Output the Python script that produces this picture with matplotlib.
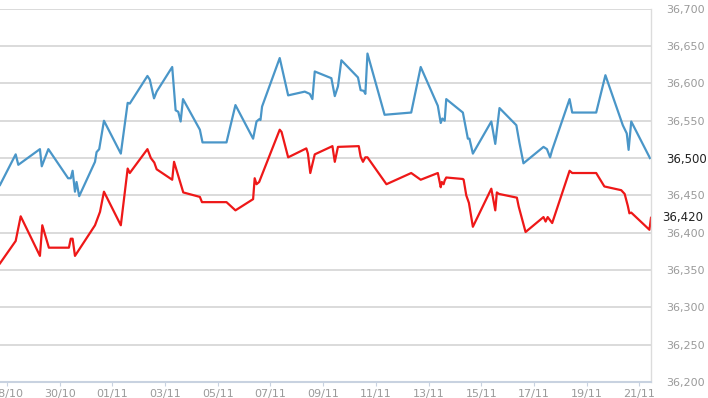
import matplotlib.pyplot as plt

# days since 28/10
blue_days = [-0.265, 0.33, 0.43, 1.25, 1.32, 1.57, 2.32, 2.42, 2.49, 2.58, 2.64, 2.74, 3.34, 3.40, 3.50,
             3.68, 4.32, 4.58, 4.66, 5.33, 5.42, 5.58, 5.68, 6.27, 6.40, 6.50, 6.59, 6.68, 7.32, 7.42,
             8.33, 8.67, 9.34, 9.47, 9.57, 9.62, 9.68, 10.35, 10.67, 11.30, 11.49, 11.59, 11.68, 12.31,
             12.44, 12.56, 12.69, 13.32, 13.42, 13.54, 13.60, 13.68, 14.33, 15.34, 15.70, 16.35, 16.46,
             16.52, 16.61, 16.67, 17.30, 17.49, 17.55, 17.68, 18.38, 18.53, 18.69, 19.33, 19.45, 19.60,
             20.36, 20.49, 20.61, 20.69, 21.35, 21.45, 22.36, 22.71, 23.37, 23.52, 23.59, 23.69, 24.40]
blue_vals = [36464, 36505, 36491, 36512, 36489, 36512, 36473, 36473, 36483, 36455, 36468, 36449, 36495,
             36508, 36512, 36550, 36506, 36574, 36573, 36610, 36605, 36580, 36589, 36622, 36564, 36562,
             36549, 36579, 36538, 36521, 36521, 36571, 36526, 36549, 36552, 36551, 36569, 36634, 36584,
             36589, 36586, 36579, 36616, 36607, 36583, 36596, 36631, 36608, 36591, 36590, 36586, 36640,
             36558, 36561, 36622, 36570, 36547, 36553, 36550, 36579, 36561, 36526, 36526, 36506, 36549,
             36519, 36567, 36544, 36520, 36493, 36515, 36512, 36501, 36511, 36579, 36561, 36561, 36611,
             36544, 36533, 36511, 36549, 36500]

red_days = [-0.265, 0.33, 0.52, 1.25, 1.34, 1.59, 2.35, 2.42, 2.49, 2.58, 3.34, 3.53, 3.68, 4.32, 4.58,
            4.66, 5.33, 5.46, 5.59, 5.68, 6.27, 6.34, 6.69, 7.32, 7.40, 8.33, 8.67, 9.34, 9.40, 9.47,
            9.57, 10.35, 10.42, 10.67, 11.36, 11.42, 11.51, 11.68, 12.35, 12.44, 12.56, 13.35, 13.42,
            13.51, 13.60, 13.68, 14.40, 15.34, 15.70, 16.35, 16.46, 16.50, 16.57, 16.61, 16.67, 17.30,
            17.33, 17.43, 17.53, 17.68, 18.38, 18.53, 18.59, 18.67, 19.35, 19.42, 19.68, 20.36, 20.44,
            20.52, 20.69, 21.35, 21.45, 22.36, 22.67, 23.31, 23.44, 23.56, 23.62, 23.69, 24.38, 24.44]
red_vals = [36359, 36389, 36422, 36369, 36410, 36380, 36380, 36392, 36392, 36369, 36410, 36428, 36455,
            36410, 36486, 36480, 36512, 36500, 36494, 36485, 36471, 36495, 36454, 36448, 36441, 36441,
            36430, 36445, 36473, 36465, 36468, 36538, 36535, 36501, 36513, 36506, 36480, 36505, 36516,
            36495, 36515, 36516, 36502, 36495, 36501, 36501, 36465, 36480, 36471, 36480, 36461, 36468,
            36465, 36470, 36474, 36472, 36471, 36450, 36440, 36408, 36459, 36430, 36454, 36452, 36447,
            36435, 36401, 36421, 36415, 36421, 36413, 36483, 36480, 36480, 36462, 36457, 36452, 36436,
            36426, 36427, 36404, 36420]

tick_days = [0, 2, 4, 6, 8, 10, 12, 14, 16, 18, 20, 22, 24]
tick_labels = ['28/10', '30/10', '01/11', '03/11', '05/11', '07/11', '09/11',
               '11/11', '13/11', '15/11', '17/11', '19/11', '21/11']
y_ticks = [36200, 36250, 36300, 36350, 36400, 36450, 36500, 36550, 36600, 36650, 36700]
last_blue = 36500
last_red = 36420

fig = plt.figure(figsize=(7.08, 3.98), dpi=100)
ax = fig.add_axes([0, 0.040, 0.9195, 0.938])

ax.plot(blue_days, blue_vals, color='#4a96c8', lw=1.6)
ax.plot(red_days, red_vals, color='#ee1818', lw=1.6)

ax.set_xlim(-0.265, 24.44)
ax.set_ylim(36200, 36700)
ax.set_yticks(y_ticks)
ax.set_yticklabels([f"{v:,}" for v in y_ticks])
ax.set_xticks(tick_days)
ax.set_xticklabels(tick_labels)
ax.yaxis.tick_right()
ax.grid(axis='y', color='#d8d8d8', lw=1.3)
ax.set_axisbelow(True)

for s in ['top', 'left']:
    ax.spines[s].set_visible(False)
ax.spines['bottom'].set_color('#c8d2e0')
ax.spines['bottom'].set_linewidth(1.5)
ax.spines['right'].set_color('#dcdcdc')
ax.spines['right'].set_linewidth(1)

ax.tick_params(axis='y', length=0, pad=11, labelsize=8, labelcolor='#9a9a9a')
ax.tick_params(axis='x', length=3, color='#c8d2e0', pad=2, labelsize=8, labelcolor='#9a9a9a')

# current value labels
for lbl in ax.get_yticklabels():
    if lbl.get_text() == f"{last_blue:,}":
        lbl.set_color('#222222')
        lbl.set_fontsize(8.5)
ax.text(1.0, last_red, f"{last_red:,}", transform=ax.get_yaxis_transform(),
        ha='left', va='center', fontsize=8.5, color='#222222',
        bbox=dict(facecolor='white', edgecolor='none', pad=0.5))
ax.texts[-1].set_x(1.0 + 11 / 651)

fig.savefig('out.png', dpi=100)
